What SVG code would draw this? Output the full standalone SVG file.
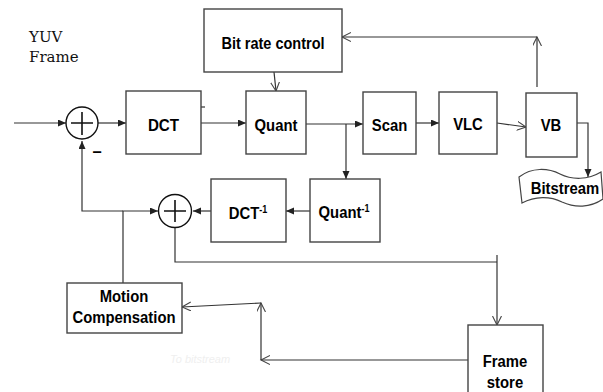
<svg xmlns="http://www.w3.org/2000/svg" width="603" height="392" viewBox="0 0 603 392">
<defs>
<marker id="fa" markerUnits="userSpaceOnUse" markerWidth="10" markerHeight="8" refX="8" refY="3.5" orient="auto"><path d="M0,0 L8,3.5 L0,7 z" fill="#222"/></marker>
<marker id="oa" markerUnits="userSpaceOnUse" markerWidth="11" markerHeight="10" refX="9" refY="4.5" orient="auto"><path d="M0,0 L9,4.5 L0,9" fill="none" stroke="#444" stroke-width="1.1"/></marker>
<style>
.box{fill:#fff;stroke:#444;stroke-width:1.4}
.lbl{font-family:"Liberation Sans",Arial,sans-serif;font-weight:bold;font-size:16.5px;fill:#000;text-anchor:middle}
.sup{font-size:10px}
.ln{fill:none;stroke:#333;stroke-width:1.2}
.f{marker-end:url(#fa)}
.o{marker-end:url(#oa)}
.sum{fill:#fff;stroke:#111;stroke-width:1.4}
.pl{stroke:#111;stroke-width:1.6}
.yuv{font-family:"DejaVu Serif","Liberation Serif",serif;font-size:15px;fill:#111}
</style>
</defs>
<text class="yuv" x="29" y="42">YUV</text>
<text class="yuv" x="29" y="62">Frame</text>
<text x="170" y="363" font-family="Liberation Sans,Arial,sans-serif" font-size="11" font-style="italic" fill="#efefef">To bitstream</text>
<g id="connectors">
<path class="ln f" d="M14,123 H66"/>
<path class="ln f" d="M98,123 H126"/>
<path class="ln" d="M201,107 H205"/>
<path class="ln f" d="M201,123 H246"/>
<path class="ln o" d="M274,72 L276,91"/>
<path class="ln f" d="M306,124 H363"/>
<path class="ln f" d="M346,124 V179"/>
<path class="ln f" d="M416,123 H439"/>
<path class="ln o" d="M497,123 L526,127"/>
<path class="ln f" d="M577,123 H588 V177"/>
<path class="ln o" d="M537,87 V37"/>
<path class="ln o" d="M537,37 H342"/>
<path class="ln f" d="M310,211 H286"/>
<path class="ln f" d="M211,211 H193"/>
<path class="ln f" d="M123,283 V211 H158"/>
<path class="ln f" d="M123,211 H82 V141"/>
<path class="ln" d="M175,228 V262 H497"/>
<path class="ln o" d="M497,255 V325"/>
<path class="ln o" d="M468,360 H261"/>
<path class="ln o" d="M261,360 V303"/>
<path class="ln o" d="M261,303 L182,307"/>
</g>
<g id="sum1">
<circle class="sum" cx="82" cy="123" r="16"/>
<path class="pl" d="M71,123 H93 M82,112 V135"/>
<text class="lbl" x="97" y="157" font-size="15">–</text>
</g>
<g id="sum2">
<circle class="sum" cx="175" cy="211" r="16.5"/>
<path class="pl" d="M164,211 H186 M175,200 V222"/>
</g>
<g id="bitrate">
<rect class="box" x="204" y="9" width="138" height="63"/>
<text class="lbl" transform="translate(273,49) scale(0.88,1)">Bit rate control</text>
</g>
<g id="dct">
<rect class="box" x="126" y="91" width="75" height="63"/>
<text class="lbl" transform="translate(163.5,131) scale(0.92,1)">DCT</text>
</g>
<g id="quant">
<rect class="box" x="246" y="91" width="60" height="63"/>
<text class="lbl" transform="translate(276,131) scale(0.9,1)">Quant</text>
</g>
<g id="scan">
<rect class="box" x="363" y="92" width="53" height="62"/>
<text class="lbl" transform="translate(389.5,131) scale(0.9,1)">Scan</text>
</g>
<g id="vlc">
<rect class="box" x="439" y="92" width="58" height="62"/>
<text class="lbl" transform="translate(468,130) scale(0.9,1)">VLC</text>
</g>
<g id="vb">
<rect class="box" x="526" y="93" width="51" height="64"/>
<text class="lbl" transform="translate(551,131) scale(0.9,1)">VB</text>
</g>
<g id="bitstream">
<path d="M519,177 C532,167 548,168 560,174 C572,180 588,180 601,172 L603,199 C590,208 575,208 562,202 C550,196 535,196 522,203 Z" fill="#fff" stroke="#444" stroke-width="1.2"/>
<text class="lbl" transform="translate(565,194) scale(0.9,1)" font-size="13" fill="#1a1424">Bitstream</text>
</g>
<g id="quantinv">
<rect class="box" x="310" y="179" width="70" height="63"/>
<text class="lbl" transform="translate(344,218) scale(0.9,1)">Quant<tspan class="sup" dy="-6">-1</tspan></text>
</g>
<g id="dctinv">
<rect class="box" x="211" y="179" width="75" height="63"/>
<text class="lbl" transform="translate(248,219) scale(0.9,1)">DCT<tspan class="sup" dy="-6">-1</tspan></text>
</g>
<g id="mc">
<rect class="box" x="67" y="283" width="115" height="50" stroke="#222"/>
<text class="lbl" transform="translate(124,302) scale(0.9,1)">Motion</text>
<text class="lbl" transform="translate(124,323) scale(0.9,1)">Compensation</text>
</g>
<g id="framestore">
<rect class="box" x="468" y="325" width="75" height="75"/>
<text class="lbl" transform="translate(505,367) scale(0.9,1)">Frame</text>
<text class="lbl" transform="translate(505,388) scale(0.9,1)">store</text>
</g>
</svg>
